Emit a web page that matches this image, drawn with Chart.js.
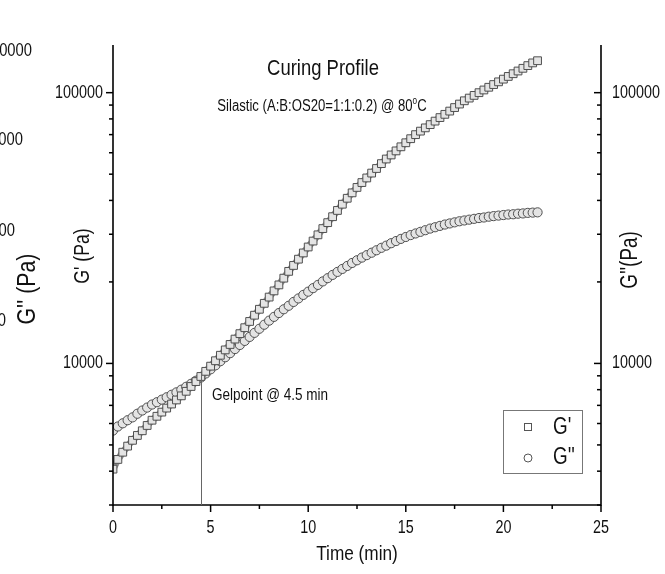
<!DOCTYPE html>
<html>
<head>
<meta charset="utf-8">
<script src="https://cdn.jsdelivr.net/npm/chart.js@4.4.0/dist/chart.umd.min.js"></script>
<style>
  html, body { margin: 0; padding: 0; background: #fff; }
</style>
</head>
<body>
<canvas id="curingChart" width="665" height="574"></canvas>
<script>
// time in minutes
const times = [
  0, 0.25, 0.5, 0.75, 1, 1.25, 1.5, 1.75, 2, 2.25, 2.5, 2.75,
  3, 3.25, 3.5, 3.75, 4, 4.25, 4.5, 4.75, 5, 5.25, 5.5, 5.75,
  6, 6.25, 6.5, 6.75, 7, 7.25, 7.5, 7.75, 8, 8.25, 8.5, 8.75,
  9, 9.25, 9.5, 9.75, 10, 10.25, 10.5, 10.75, 11, 11.25, 11.5, 11.75,
  12, 12.25, 12.5, 12.75, 13, 13.25, 13.5, 13.75, 14, 14.25, 14.5, 14.75,
  15, 15.25, 15.5, 15.75, 16, 16.25, 16.5, 16.75, 17, 17.25, 17.5, 17.75,
  18, 18.25, 18.5, 18.75, 19, 19.25, 19.5, 19.75, 20, 20.25, 20.5, 20.75,
  21, 21.25, 21.5, 21.75
];
// storage modulus G' (Pa)
const gPrime = [
  4070, 4420, 4700, 4950, 5200, 5420, 5640, 5900, 6170, 6380, 6610, 6840,
  7080, 7330, 7590, 7890, 8220, 8570, 8950, 9350, 9770, 10230, 10720, 11220,
  11750, 12300, 12880, 13550, 14290, 15070, 15850, 16670, 17580, 18530, 19500, 20650,
  21880, 23010, 24270, 25590, 26920, 28310, 29850, 31480, 33110, 34830, 36730, 38730,
  40740, 42660, 44670, 46560, 48420, 50470, 52480, 54700, 56890, 58880, 60950, 63100,
  65310, 67610, 69980, 72110, 74130, 76210, 78520, 80910, 83180, 85510, 88100, 90780,
  93330, 95500, 97720, 100000, 102330, 104710, 107150, 109650, 112200, 114820, 117490, 120230,
  123030, 125890, 128820, 131220
];
// loss modulus G'' (Pa)
const gDouble = [
  5650, 5850, 6010, 6170, 6320, 6520, 6700, 6870, 7050, 7190, 7350, 7500,
  7660, 7820, 8000, 8200, 8410, 8630, 8870, 9180, 9510, 9840, 10190, 10540,
  10910, 11300, 11700, 12110, 12530, 12970, 13430, 13900, 14390, 14860, 15350, 15850,
  16330, 16870, 17380, 17910, 18410, 18970, 19500, 20090, 20650, 21230, 21780, 22340,
  22910, 23500, 24040, 24600, 25120, 25640, 26180, 26730, 27230, 27800, 28310, 28840,
  29310, 29790, 30200, 30620, 31050, 31480, 31840, 32210, 32580, 32890, 33190, 33500,
  33730, 33960, 34200, 34430, 34590, 34830, 35000, 35160, 35320, 35480, 35560, 35730,
  35810, 35980, 36060, 36140
];

const yTicks = [3000, 4000, 5000, 6000, 7000, 8000, 9000, 10000,
  20000, 30000, 40000, 50000, 60000, 70000, 80000, 90000, 100000];
const yLabelled = [10000, 100000];
const xMajor = [0, 5, 10, 15, 20, 25];
const xMinor = [2.5, 7.5, 12.5, 17.5, 22.5];
const gelTime = 4.5;
const gelTop = 9200;

const FONT = "'Liberation Sans', Arial, sans-serif";
const SQUEEZE = 0.82; // narrow look of the original lettering
const INK = '#111';

function seg(ctx, x1, y1, x2, y2) {
  ctx.beginPath();
  ctx.moveTo(x1, y1);
  ctx.lineTo(x2, y2);
  ctx.stroke();
}

// draw narrow text, optionally rotated
function txt(ctx, text, x, y, size, align, baseline, rotate) {
  ctx.save();
  ctx.translate(x, y);
  if (rotate) ctx.rotate(-Math.PI / 2);
  ctx.scale(SQUEEZE, 1);
  ctx.font = size + 'px ' + FONT;
  ctx.textAlign = align || 'left';
  ctx.textBaseline = baseline || 'alphabetic';
  ctx.fillText(text, 0, 0);
  ctx.restore();
}

function txtWidth(ctx, text, size) {
  ctx.font = size + 'px ' + FONT;
  return ctx.measureText(text).width * SQUEEZE;
}

const decorations = {
  id: 'decorations',
  afterDraw(chart) {
    const { ctx, chartArea: area, scales: { x, y } } = chart;
    ctx.save();
    ctx.strokeStyle = '#000';
    ctx.fillStyle = INK;

    // axis lines
    ctx.lineWidth = 1.6;
    seg(ctx, area.left, area.top, area.left, area.bottom + 0.8);
    seg(ctx, area.right, area.top, area.right, area.bottom + 0.8);
    seg(ctx, area.left, area.bottom, area.right, area.bottom);

    // y ticks: left outward, right inward
    ctx.lineWidth = 1.5;
    yTicks.forEach(v => {
      const py = y.getPixelForValue(v);
      const major = yLabelled.includes(v);
      const len = major ? 7 : 4;
      seg(ctx, area.left - len, py, area.left, py);
      seg(ctx, area.right - len, py, area.right, py);
      if (major) {
        txt(ctx, String(v), area.left - 10, py, 17.5, 'right', 'middle');
        txt(ctx, String(v), area.right + 11, py, 17.5, 'left', 'middle');
      }
    });
    // x ticks
    xMajor.forEach(v => {
      const px = x.getPixelForValue(v);
      seg(ctx, px, area.bottom, px, area.bottom + 7);
      txt(ctx, String(v), px, 528, 17.5, 'center', 'middle');
    });
    xMinor.forEach(v => {
      const px = x.getPixelForValue(v);
      seg(ctx, px, area.bottom, px, area.bottom + 4);
    });

    // gel point marker
    ctx.strokeStyle = '#666';
    ctx.lineWidth = 1;
    const gx = Math.round(x.getPixelForValue(gelTime)) + 0.5;
    seg(ctx, gx, y.getPixelForValue(gelTop), gx, area.bottom);
    txt(ctx, 'Gelpoint @ 4.5 min', 212, 400, 16.5);

    // titles
    txt(ctx, 'Curing Profile', 323, 75, 22.5, 'center');
    const main = 'Silastic (A:B:OS20=1:1:0.2) @ 80';
    const wMain = txtWidth(ctx, main, 16);
    const wSup = txtWidth(ctx, 'o', 10);
    const wC = txtWidth(ctx, 'C', 16);
    const sx = 322 - (wMain + wSup + wC) / 2;
    txt(ctx, main, sx, 111, 16);
    txt(ctx, 'o', sx + wMain, 104, 10);
    txt(ctx, 'C', sx + wMain + wSup, 111, 16);

    // axis titles
    txt(ctx, 'Time (min)', 357, 554, 21, 'center', 'middle');
    txt(ctx, "G' (Pa)", 83, 256, 21.5, 'center', 'middle', true);
    txt(ctx, "G''(Pa)", 631, 260, 23, 'center', 'middle', true);

    // cut-off neighbouring plot on the left edge
    txt(ctx, '100000', 32, 51, 18, 'right', 'middle');
    txt(ctx, '10000', 23, 140, 18, 'right', 'middle');
    txt(ctx, '1000', 15, 231, 18, 'right', 'middle');
    txt(ctx, '100', 6, 321, 18, 'right', 'middle');
    txt(ctx, "G'' (Pa)", 28, 289, 26, 'center', 'middle', true);

    // legend
    ctx.strokeStyle = '#777';
    ctx.lineWidth = 1;
    ctx.strokeRect(503.5, 410.5, 79, 63);
    ctx.strokeStyle = '#555';
    ctx.fillStyle = '#fff';
    ctx.fillRect(524.5, 423.5, 7, 7);
    ctx.strokeRect(524.5, 423.5, 7, 7);
    ctx.beginPath();
    ctx.arc(528, 458, 4, 0, Math.PI * 2);
    ctx.fill();
    ctx.stroke();
    ctx.fillStyle = INK;
    txt(ctx, "G'", 553, 428, 23, 'left', 'middle');
    txt(ctx, "G''", 553, 458, 23, 'left', 'middle');

    ctx.restore();
  }
};

const ctx = document.getElementById('curingChart');

const markerStyle = {
  showLine: true,
  borderWidth: 7,
  borderColor: '#8e8e8e',
  pointBorderWidth: 1,
  pointBorderColor: '#505050',
  pointBackgroundColor: '#e4e4e4',
};

new Chart(ctx, {
  type: 'scatter',
  data: {
    datasets: [
      {
        label: "G'",
        data: times.map((t, i) => ({ x: t, y: gPrime[i] })),
        yAxisID: 'y',
        pointStyle: 'rect',
        pointRadius: 5.5,
        ...markerStyle,
      },
      {
        label: "G''",
        data: times.map((t, i) => ({ x: t, y: gDouble[i] })),
        yAxisID: 'y2',
        pointStyle: 'circle',
        pointRadius: 4.6,
        ...markerStyle,
      },
    ],
  },
  options: {
    responsive: false,
    animation: false,
    devicePixelRatio: 1,
    layout: { padding: { top: 45, left: 0, right: 0, bottom: 0 } },
    plugins: {
      legend: { display: false },
      tooltip: { enabled: false },
    },
    scales: {
      x: {
        type: 'linear',
        position: 'bottom',
        min: 0,
        max: 25,
        grid: { display: false, drawTicks: false },
        border: { display: false },
        ticks: { display: false, stepSize: 5 },
        afterFit: (scale) => { scale.height = 69; },
      },
      y: {
        type: 'logarithmic',
        position: 'left',
        min: 3000,
        max: 150000,
        grid: { display: false, drawTicks: false },
        border: { display: false },
        ticks: { display: false },
        afterFit: (scale) => { scale.width = 113; },
      },
      y2: {
        type: 'logarithmic',
        position: 'right',
        min: 3000,
        max: 150000,
        grid: { display: false, drawTicks: false },
        border: { display: false },
        ticks: { display: false },
        afterFit: (scale) => { scale.width = 64; },
      },
    },
  },
  plugins: [decorations],
});
</script>
</body>
</html>
